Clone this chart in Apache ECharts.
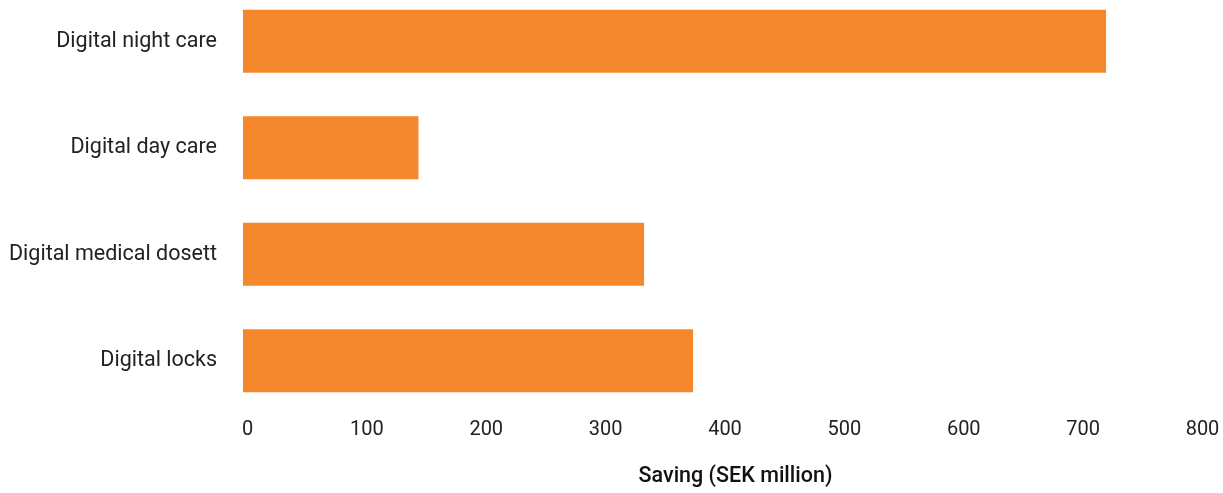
<!DOCTYPE html>
<html>
<head>
<meta charset="utf-8">
<script src="https://cdn.jsdelivr.net/npm/echarts@6/dist/echarts.min.js"></script>
<style>
  html, body { margin: 0; padding: 0; background: #ffffff; }
  #chart { width: 1223px; height: 493px; }
</style>
</head>
<body>
<div id="chart"></div>
<script>
const categories = ['Digital night care', 'Digital day care', 'Digital medical dosett', 'Digital locks'];
const savings = [723, 147, 336, 377];
const axisTitle = 'Saving (SEK million)';

const chart = echarts.init(document.getElementById('chart'), null, { renderer: 'canvas' });
chart.setOption({
  animation: false,
  backgroundColor: '#ffffff',
  grid: { left: 243, right: 25, top: -12, bottom: 79, containLabel: false, outerBoundsMode: 'none' },
  xAxis: {
    type: 'value',
    min: 0,
    max: 800,
    interval: 100,
    axisLine: { show: false },
    axisTick: { show: false },
    splitLine: { show: false },
    axisLabel: {
      color: '#222222',
      fontFamily: 'Roboto',
      fontSize: 20,
      margin: 6,
      padding: [0, 0, 0, 9]
    },
    name: axisTitle,
    nameLocation: 'middle',
    nameGap: 52,
    nameTextStyle: {
      color: '#111111',
      fontFamily: 'Roboto',
      fontWeight: 500,
      fontSize: 21.5,
      padding: [0, 0, 0, 30]
    }
  },
  yAxis: {
    type: 'category',
    data: categories,
    inverse: true,
    axisLine: { show: false },
    axisTick: { show: false },
    splitLine: { show: false },
    axisLabel: {
      color: '#222222',
      fontFamily: 'Roboto',
      fontSize: 21.5,
      margin: 26,
      padding: [6, 0, 0, 0]
    }
  },
  series: [{
    type: 'bar',
    data: savings,
    barWidth: '59%',
    itemStyle: { color: '#F5872D' }
  }]
});
</script>
</body>
</html>
